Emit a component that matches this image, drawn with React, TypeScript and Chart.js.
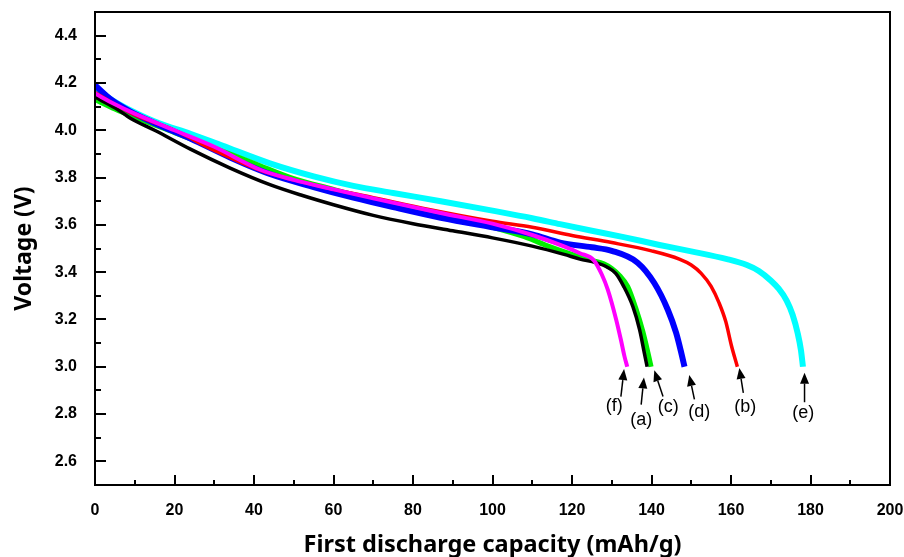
import React, { useEffect, useRef } from "react";
import { Chart, registerables } from "chart.js";
Chart.register(...registerables);

// ---- data ----
const capA = [0, 5, 9, 15, 24, 34, 44, 52, 60, 70, 80, 90, 100, 110, 118, 122, 126, 129, 131, 133, 135.3, 137, 138.2, 138.9];
const voltA = [4.14, 4.095, 4.05, 4.0, 3.92, 3.84, 3.77, 3.725, 3.685, 3.64, 3.605, 3.575, 3.545, 3.51, 3.475, 3.455, 3.44, 3.42, 3.395, 3.34, 3.255, 3.157, 3.058, 3.0];

const capB = [0, 5, 10, 20, 30, 41.6, 50, 60, 70, 84, 100, 110, 120, 130, 140, 147, 150, 152.5, 155, 157, 158.7, 160.1, 161.6];
const voltB = [4.16, 4.11, 4.065, 4.0, 3.915, 3.83, 3.79, 3.75, 3.715, 3.665, 3.615, 3.59, 3.555, 3.525, 3.49, 3.455, 3.43, 3.395, 3.34, 3.27, 3.19, 3.09, 3.0];

const capC = [0, 5, 10, 20, 30, 40, 50, 60, 70, 80, 90, 100, 108, 114, 120, 125, 128, 130, 132, 134, 136, 137.8, 139.1, 139.9];
const voltC = [4.13, 4.09, 4.055, 3.99, 3.925, 3.86, 3.795, 3.75, 3.705, 3.665, 3.63, 3.59, 3.55, 3.51, 3.475, 3.45, 3.435, 3.415, 3.385, 3.34, 3.25, 3.15, 3.06, 3.0];

const capD = [0, 4, 8.8, 15, 24, 34, 44, 55, 65, 75, 87, 100, 110, 117, 125, 130, 136.5, 140.7, 144.1, 146.2, 147.5, 148.3];
const voltD = [4.19, 4.13, 4.08, 4.03, 3.965, 3.885, 3.815, 3.76, 3.715, 3.675, 3.63, 3.59, 3.56, 3.525, 3.505, 3.49, 3.44, 3.354, 3.241, 3.143, 3.058, 3.0];

const capE = [0, 5, 10, 16, 24, 32, 44, 55, 65, 75, 87, 100, 110, 117, 125, 133, 142, 150, 159, 164, 167, 170, 172, 174, 175.5, 176.8, 177.6, 178.1];
const voltE = [4.18, 4.12, 4.075, 4.03, 3.985, 3.935, 3.86, 3.805, 3.765, 3.735, 3.7, 3.66, 3.628, 3.603, 3.575, 3.548, 3.515, 3.488, 3.455, 3.43, 3.405, 3.365, 3.33, 3.28, 3.22, 3.14, 3.07, 3.0];

const capF = [0, 5, 10, 20, 30, 41.6, 50, 60, 70, 87, 100, 110, 118, 122, 125.5, 127.5, 129, 131.1, 132.3, 133.2, 133.9];
const voltF = [4.155, 4.11, 4.07, 4.0, 3.93, 3.833, 3.79, 3.75, 3.712, 3.65, 3.605, 3.557, 3.509, 3.48, 3.45, 3.39, 3.326, 3.2, 3.114, 3.044, 3.0];

// tick values
const xMajorTicks = [0, 20, 40, 60, 80, 100, 120, 140, 160, 180, 200];
const xMinorTicks = [10, 30, 50, 70, 90, 110, 130, 150, 170, 190];
const yMajorTicks = [2.6, 2.8, 3.0, 3.2, 3.4, 3.6, 3.8, 4.0, 4.2, 4.4];
const yMinorTicks = [2.7, 2.9, 3.1, 3.3, 3.5, 3.7, 3.9, 4.1, 4.3];

// curve annotations (data coordinates)
const noteLabels = ["(f)", "(a)", "(c)", "(d)", "(b)", "(e)"];
const noteLabelX = [130.6, 137.4, 144.2, 152.0, 163.6, 178.2];
const noteLabelY = [2.835, 2.775, 2.828, 2.81, 2.828, 2.805];
const arrowTipX = [133.1, 138.1, 140.7, 149.5, 162.1, 178.5];
const arrowTipY = [2.99, 2.955, 2.985, 2.965, 2.995, 2.975];
const arrowTailX = [132.3, 137.4, 142.9, 150.8, 163.1, 178.5];
const arrowTailY = [2.874, 2.84, 2.874, 2.862, 2.89, 2.85];

const toPts = (xs: number[], ys: number[]) => xs.map((v, i) => ({ x: v, y: ys[i] }));

const framePlugin = {
  id: "frameTicksNotes",
  afterDatasetsDraw(chart: any) {
    const { ctx, chartArea, scales } = chart;
    const { left, right, top, bottom } = chartArea;
    const xs = scales.x;
    const ys = scales.y;
    ctx.save();
    ctx.strokeStyle = "#000";
    ctx.lineWidth = 2;
    ctx.strokeRect(left, top, right - left, bottom - top);
    ctx.beginPath();
    xMajorTicks.forEach((v) => {
      const p = Math.round(xs.getPixelForValue(v));
      ctx.moveTo(p, bottom);
      ctx.lineTo(p, bottom - 10);
    });
    xMinorTicks.forEach((v) => {
      const p = Math.round(xs.getPixelForValue(v));
      ctx.moveTo(p, bottom);
      ctx.lineTo(p, bottom - 5);
    });
    yMajorTicks.forEach((v) => {
      const p = Math.round(ys.getPixelForValue(v));
      ctx.moveTo(left, p);
      ctx.lineTo(left + 11, p);
    });
    yMinorTicks.forEach((v) => {
      const p = Math.round(ys.getPixelForValue(v));
      ctx.moveTo(left, p);
      ctx.lineTo(left + 6, p);
    });
    ctx.stroke();

    // arrows
    ctx.fillStyle = "#000";
    ctx.lineWidth = 1.5;
    noteLabels.forEach((_, i) => {
      const tx = xs.getPixelForValue(arrowTipX[i]);
      const ty = ys.getPixelForValue(arrowTipY[i]);
      const sx = xs.getPixelForValue(arrowTailX[i]);
      const sy = ys.getPixelForValue(arrowTailY[i]);
      const ang = Math.atan2(ty - sy, tx - sx);
      const hl = 11;
      const hw = 4.5;
      const bx = tx - hl * Math.cos(ang);
      const by = ty - hl * Math.sin(ang);
      ctx.beginPath();
      ctx.moveTo(sx, sy);
      ctx.lineTo(bx, by);
      ctx.stroke();
      ctx.beginPath();
      ctx.moveTo(tx, ty);
      ctx.lineTo(bx + hw * Math.sin(ang), by - hw * Math.cos(ang));
      ctx.lineTo(bx - hw * Math.sin(ang), by + hw * Math.cos(ang));
      ctx.closePath();
      ctx.fill();
    });

    ctx.font = "18px 'Liberation Sans', Arial, sans-serif";
    ctx.textAlign = "center";
    ctx.textBaseline = "middle";
    noteLabels.forEach((t, i) => {
      ctx.fillText(t, xs.getPixelForValue(noteLabelX[i]), ys.getPixelForValue(noteLabelY[i]));
    });
    ctx.restore();
  },
};

const noEdgePad = (s: any) => {
  s.paddingTop = 0;
  s.paddingBottom = 0;
  s.paddingLeft = 0;
  s.paddingRight = 0;
};

export default function App() {
  const ref = useRef<HTMLCanvasElement | null>(null);
  useEffect(() => {
    if (!ref.current) return;
    const mk = (label: string, xs: number[], ys: number[], color: string, w: number, order: number) => ({
      label,
      data: toPts(xs, ys),
      showLine: true,
      borderColor: color,
      backgroundColor: color,
      borderWidth: w,
      pointRadius: 0,
      cubicInterpolationMode: "monotone" as const,
      order,
    });
    const chart = new Chart(ref.current, {
      type: "scatter",
      data: {
        datasets: [
          mk("(e)", capE, voltE, "#00FFFF", 6, 6),
          mk("(c)", capC, voltC, "#00EE00", 5, 5),
          mk("(d)", capD, voltD, "#0000FF", 6, 4),
          mk("(b)", capB, voltB, "#FF0000", 3.5, 3),
          mk("(a)", capA, voltA, "#000000", 3.5, 2),
          mk("(f)", capF, voltF, "#FF00FF", 4, 1),
        ],
      },
      options: {
        animation: false,
        responsive: true,
        maintainAspectRatio: false,
        layout: { padding: { left: 0, top: 12, right: 14, bottom: 0 } },
        plugins: { legend: { display: false }, tooltip: { enabled: false } },
        scales: {
          x: {
            type: "linear",
            min: 0,
            max: 200,
            grid: { display: false, drawTicks: false },
            border: { display: false },
            afterBuildTicks: (s: any) => {
              s.ticks = xMajorTicks.map((v) => ({ value: v }));
            },
            afterFit: (s: any) => {
              s.height = 72;
              noEdgePad(s);
            },
            ticks: {
              padding: 16,
              color: "#000",
              font: { family: "'Liberation Sans', Arial, sans-serif", size: 16, weight: "bold" },
              callback: (v: any) => String(v),
            },
            title: {
              display: true,
              text: "First discharge capacity (mAh/g)",
              color: "#000",
              font: { family: "'Noto Sans', sans-serif", size: 23.5, weight: "bold", lineHeight: 1 },
              padding: { top: 0, bottom: 0 },
            },
          },
          y: {
            type: "linear",
            min: 2.5,
            max: 4.5,
            grid: { display: false, drawTicks: false },
            border: { display: false },
            afterBuildTicks: (s: any) => {
              s.ticks = yMajorTicks.map((v) => ({ value: v }));
            },
            afterFit: (s: any) => {
              s.width = 95;
              noEdgePad(s);
            },
            ticks: {
              padding: 18,
              color: "#000",
              font: { family: "'Liberation Sans', Arial, sans-serif", size: 16, weight: "bold" },
              callback: (v: any) => Number(v).toFixed(1),
            },
            title: {
              display: true,
              text: "Voltage (V)",
              color: "#000",
              font: { family: "'Noto Sans', sans-serif", size: 23, weight: "bold", lineHeight: 1 },
              padding: { top: 13, bottom: 0 },
            },
          },
        },
      },
      plugins: [framePlugin],
    });
    return () => chart.destroy();
  }, []);
  return (
    <div style={{ position: "absolute", left: 0, top: 0, width: 904, height: 557, background: "#fff" }}>
      <canvas ref={ref} />
    </div>
  );
}
